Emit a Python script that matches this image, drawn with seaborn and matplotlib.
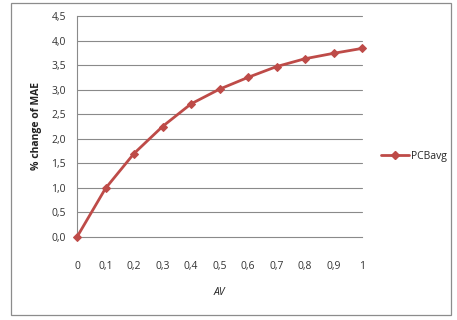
import matplotlib
matplotlib.use("Agg")
import matplotlib.pyplot as plt
import seaborn as sns
import pandas as pd
from matplotlib.patches import Rectangle
from matplotlib.lines import Line2D

# Data
av = [0.0, 0.1, 0.2, 0.3, 0.4, 0.5, 0.6, 0.7, 0.8, 0.9, 1.0]
pcbavg = [0.0, 0.99, 1.70, 2.25, 2.71, 3.01, 3.25, 3.47, 3.63, 3.74, 3.84]
x_ticks = [0.0, 0.1, 0.2, 0.3, 0.4, 0.5, 0.6, 0.7, 0.8, 0.9, 1.0]
x_tick_labels = ["0", "0,1", "0,2", "0,3", "0,4", "0,5", "0,6", "0,7", "0,8", "0,9", "1"]
y_ticks = [0.0, 0.5, 1.0, 1.5, 2.0, 2.5, 3.0, 3.5, 4.0, 4.5]
y_tick_labels = ["0,0", "0,5", "1,0", "1,5", "2,0", "2,5", "3,0", "3,5", "4,0", "4,5"]
series_name = "PCBavg"

sns.set_style("white")
plt.rcParams["font.family"] = ["Open Sans", "DejaVu Sans"]

W, H = 457, 320
fig = plt.figure(figsize=(W / 100, H / 100), dpi=100)
fig.patch.set_facecolor("white")

# chart-area border
fig.add_artist(Rectangle((11 / W, 5 / H), (451 - 11) / W, (H - 5 - 3) / H,
                         transform=fig.transFigure, fill=False,
                         edgecolor="#8c8c8c", linewidth=0.9))

left, right, top, bottom = 77, 362, 16, 237
ax = fig.add_axes([left / W, 1 - bottom / H, (right - left) / W, (bottom - top) / H])

red = "#BE4B48"
df = pd.DataFrame({"AV": av, series_name: pcbavg})
sns.lineplot(data=df, x="AV", y=series_name, ax=ax, color=red, linewidth=2.0,
             marker="D", markersize=4, markeredgecolor=red, markerfacecolor=red,
             legend=False, zorder=3)

ax.set_xlim(0, 1)
ax.set_ylim(0, 4.5)
ax.set_yticks(y_ticks)
ax.set_yticklabels(y_tick_labels)
ax.set_xticks(x_ticks)
ax.set_xticklabels(x_tick_labels)

grid_c = "#8a8a8a"
for y in y_ticks[1:]:
    ax.axhline(y, color=grid_c, linewidth=0.8, zorder=1)

for s in ["top", "right"]:
    ax.spines[s].set_visible(False)
for s in ["left", "bottom"]:
    ax.spines[s].set_color(grid_c)
    ax.spines[s].set_linewidth(0.8)

ax.tick_params(axis="x", direction="out", length=3, width=0.8, color=grid_c,
               pad=14, labelsize=7.5, labelcolor="#333333")
ax.tick_params(axis="y", direction="out", length=3, width=0.8, color=grid_c,
               pad=5, labelsize=7.5, labelcolor="#333333")
for line in ax.lines:
    line.set_clip_on(False)

ax.set_xlabel("AV", fontsize=7.5, fontstyle="italic", color="#222222", labelpad=11)
ax.set_ylabel("% change of MAE", fontsize=7.5, fontweight="bold", color="#222222", labelpad=7)

# legend
handle = Line2D([], [], color=red, linewidth=2.0, marker="D", markersize=4,
                markerfacecolor=red, markeredgecolor=red)
fig.legend([handle], [series_name], loc="center left",
           bbox_to_anchor=(376 / W, 1 - 156 / H), frameon=False,
           fontsize=7.5, handlelength=2.7, handletextpad=0.15, borderpad=0)

fig.savefig("out.png", dpi=100, facecolor="white")
